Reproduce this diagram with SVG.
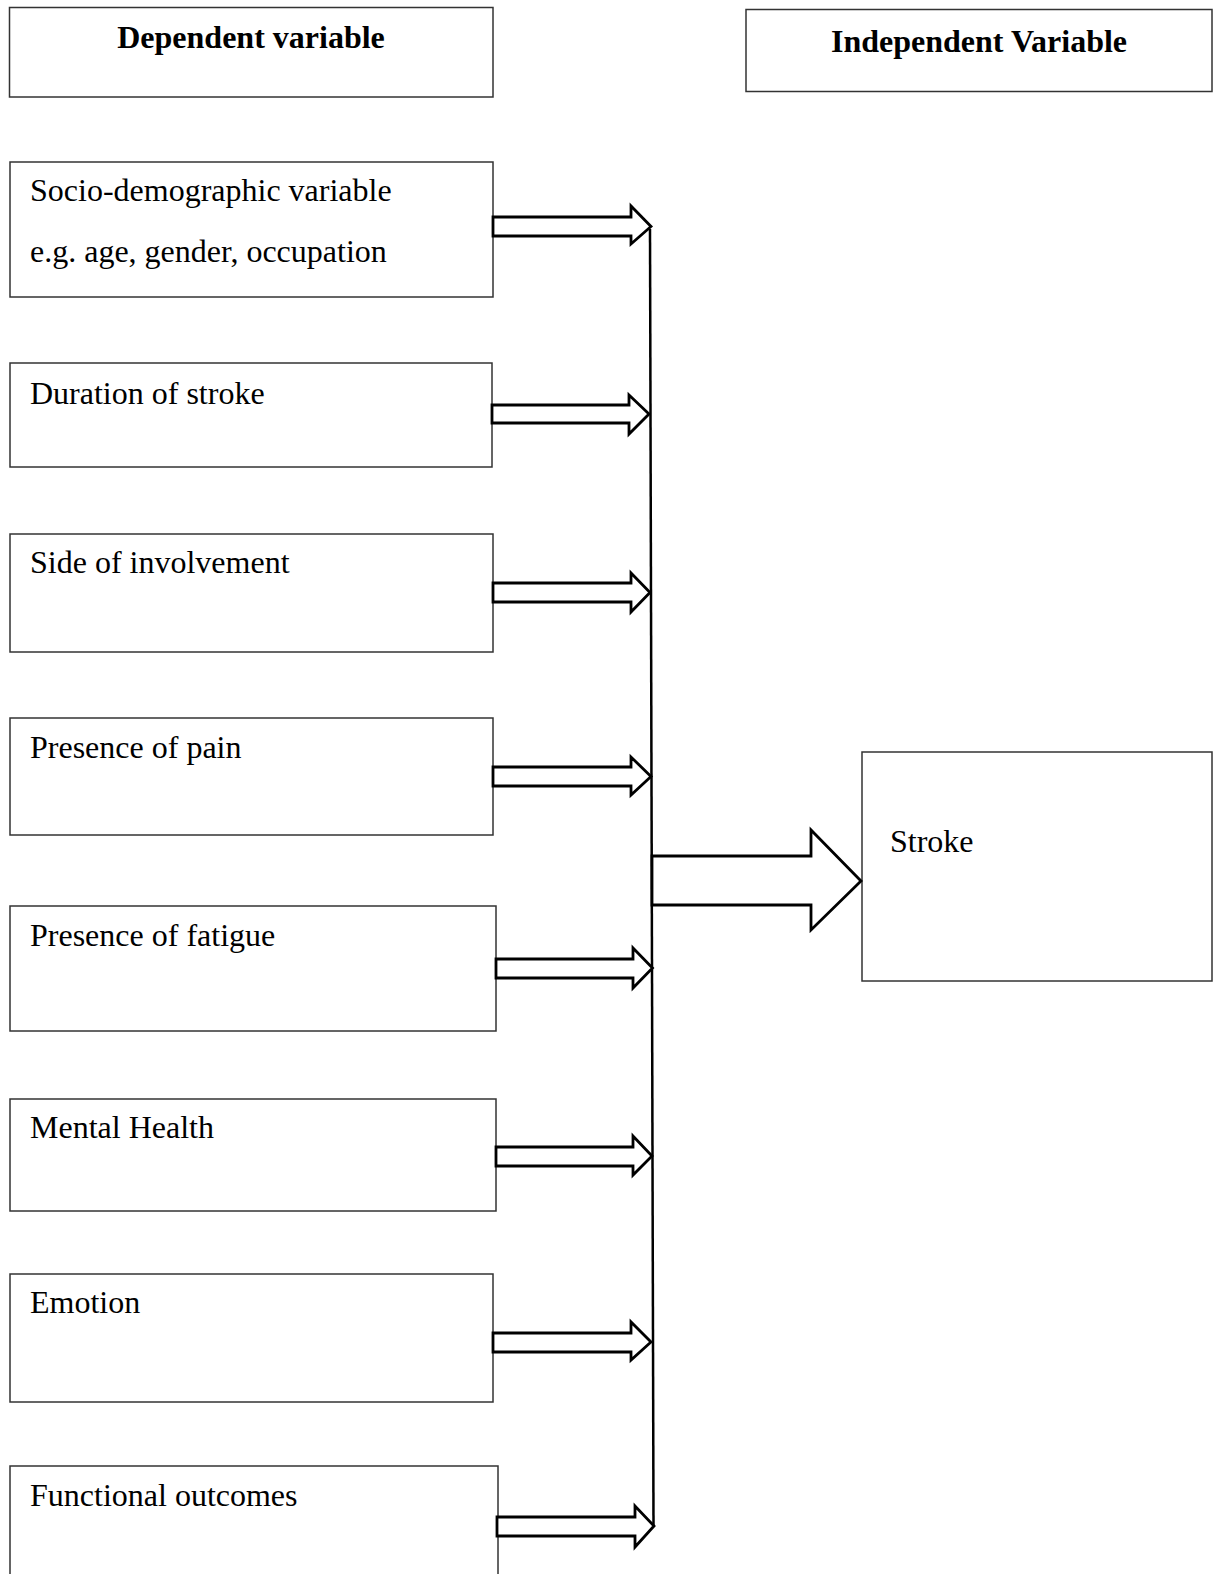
<svg xmlns="http://www.w3.org/2000/svg" width="1214" height="1574" viewBox="0 0 1214 1574">
<style>
.box{fill:#fff;stroke:#333;stroke-width:1.5}
.t{font-family:"Liberation Serif","Times New Roman",serif;font-size:32px;fill:#000}
.b{font-weight:bold;text-anchor:middle}
.arr{fill:#fff;stroke:#000;stroke-width:2.8;stroke-linejoin:miter}
.ln{fill:none;stroke:#000;stroke-width:2.5}
</style>
<rect width="1214" height="1574" fill="#fff"/>
<g id="header-dependent"><rect class="box" x="9.5" y="7.5" width="483.5" height="89.5"/><text class="t b" x="251" y="48">Dependent variable</text></g>
<g id="header-independent"><rect class="box" x="746" y="9.5" width="466" height="82"/><text class="t b" x="979" y="52">Independent Variable</text></g>
<g id="node-socio"><rect class="box" x="10" y="162" width="483" height="135"/><text class="t" x="30" y="201">Socio-demographic variable</text><text class="t" x="30" y="262">e.g. age, gender, occupation</text></g>
<g id="node-duration"><rect class="box" x="10" y="363" width="482" height="104"/><text class="t" x="30" y="404">Duration of stroke</text></g>
<g id="node-side"><rect class="box" x="10" y="534" width="483" height="118"/><text class="t" x="30" y="573">Side of involvement</text></g>
<g id="node-pain"><rect class="box" x="10" y="718" width="483" height="117"/><text class="t" x="30" y="758">Presence of pain</text></g>
<g id="node-fatigue"><rect class="box" x="10" y="906" width="486" height="125"/><text class="t" x="30" y="946">Presence of fatigue</text></g>
<g id="node-mental"><rect class="box" x="10" y="1099" width="486" height="112"/><text class="t" x="30" y="1138">Mental Health</text></g>
<g id="node-emotion"><rect class="box" x="10" y="1274" width="483" height="128"/><text class="t" x="30" y="1313">Emotion</text></g>
<g id="node-functional"><rect class="box" x="10" y="1466" width="488" height="120"/><text class="t" x="30" y="1506">Functional outcomes</text></g>
<g id="node-stroke"><rect class="box" x="862" y="752" width="350" height="229"/><text class="t" x="890" y="852">Stroke</text></g>
<g id="connectors">
<path class="ln" d="M650 229 L653.5 1526"/>
<path class="arr" d="M493 217 H631 V206 L651 226.5 L631 244 V236 H493 Z"/>
<path class="arr" d="M492 405 H629 V395 L649 414 L629 434 V423 H492 Z"/>
<path class="arr" d="M493 583 H631 V573 L650 592.5 L631 612 V602 H493 Z"/>
<path class="arr" d="M493 767 H631 V757 L651 776.5 L631 795 V786 H493 Z"/>
<path class="arr" d="M496 959 H633 V948 L652.5 968 L633 988 V978 H496 Z"/>
<path class="arr" d="M496 1147 H633 V1136 L652 1156 L633 1175 V1166 H496 Z"/>
<path class="arr" d="M493 1333 H631 V1322 L651 1342 L631 1360 V1352 H493 Z"/>
<path class="arr" d="M497 1517 H635 V1506 L654 1526 L635 1547 V1536 H497 Z"/>
<path class="arr" d="M652 856 H811 V830 L861 881 L811 930 V905 H652 Z"/>
</g>
</svg>
